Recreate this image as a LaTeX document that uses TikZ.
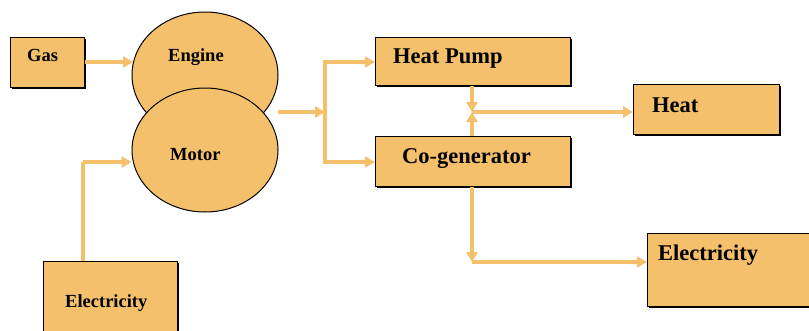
\documentclass[tikz,border=0pt]{standalone}
\usepackage{fontspec}
\setmainfont{Liberation Serif}
\usepackage{tikz}
\usetikzlibrary{arrows.meta,calc,shadows,shapes.geometric}
\definecolor{sand}{RGB}{245,192,108}
\tikzset{
  box/.style={
    draw=black,
    line width=1pt,
    fill=sand,
    anchor=north west,
    inner sep=0pt,
    drop shadow={shadow xshift=1pt,shadow yshift=-1.6pt,fill=black,opacity=1}
  },
  disc/.style={
    ellipse,
    draw=black,
    line width=1pt,
    fill=sand,
    minimum width=146pt,
    inner sep=0pt
  },
  lbl/.style={
    anchor=base west,
    inner sep=0pt,
    font=\bfseries\fontsize{18.5}{20}\selectfont
  },
  big/.style={
    lbl,
    font=\bfseries\fontsize{22.5}{24}\selectfont
  },
  flow/.style={
    -{Triangle[length=10pt,width=11pt]},
    line width=3.8pt,
    draw=sand
  }
}

\begin{document}
\begin{tikzpicture}[x=1pt,y=-1pt]
\clip (0,0) rectangle (809,330);
\fill[white] (0,0) rectangle (809,330);
% boxes
\node[box,minimum width=74pt,minimum height=50pt] (gas) at (10,37) {};
\node[box,minimum width=134pt,minimum height=80pt] (elecin) at (43,261) {};
\node[box,minimum width=195pt,minimum height=48pt] (hp) at (375,37) {};
\node[box,minimum width=195pt,minimum height=50pt] (cg) at (375,136) {};
\node[box,minimum width=146pt,minimum height=50pt] (heat) at (633,84) {};
\node[box,minimum width=170pt,minimum height=73pt] (elecout) at (647,233) {};
% engine and motor
\node[disc,minimum height=126pt] (engine) at (205,75) {};
\node[disc,minimum height=124pt] (motor) at (205,150) {};
% labels
\node[lbl] (gas-t) at (27,61) {Gas};
\node[lbl] (engine-t) at (168,61) {Engine};
\node[lbl] (motor-t) at (170,160) {Motor};
\node[lbl] (elecin-t) at (65,307) {Electricity};
\node[big] (hp-t) at (393,63) {Heat Pump};
\node[big] (cg-t) at (402,163) {Co-generator};
\node[big] (heat-t) at (652,112) {Heat};
\node[big] (elecout-t) at (658,260) {Electricity};
% connectors
\coordinate (out) at (278,112);
\coordinate (split) at (325,112);
\coordinate (mid) at (472,112);
\coordinate (corner) at (472,262);
\coordinate (up) at (83,162);
\draw[flow] (gas.east |- 0,62) -- (133,62);
\draw[flow,-] (elecin.north west -| up) -- (up);
\draw[flow] (up) -- (up -| motor.west);
\draw[flow] (out) -- (split);
\draw[flow] (split) |- (hp.west |- 0,62);
\draw[flow] (split) |- (cg.west |- 0,162);
\draw[flow] (hp.south -| mid) -- (mid);
\draw[flow] (cg.north -| mid) -- (mid);
\draw[flow] (mid) -- (mid -| heat.west);
\draw[flow] (cg.south -| mid) -- (corner);
\draw[flow] (corner) -- (corner -| elecout.west);
\end{tikzpicture}
\end{document}
